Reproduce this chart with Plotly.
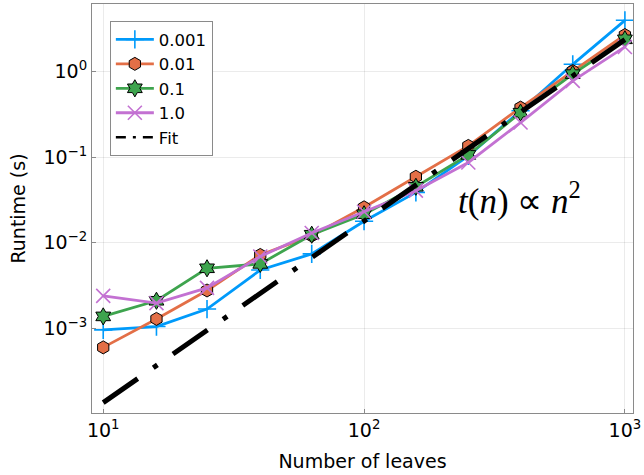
import plotly.graph_objects as go

# Number of leaves in the tree (log-spaced sizes)
leaves = [10, 16, 25, 40, 63, 100, 158, 251, 398, 631, 1000]

# Runtime in seconds for each tolerance setting
rt_0001 = [0.00096, 0.00105, 0.00168, 0.0048, 0.0074, 0.0178, 0.0387, 0.1035, 0.347, 1.21, 3.95]
rt_001 = [0.0006, 0.00129, 0.00277, 0.0072, 0.0121, 0.0259, 0.0589, 0.135, 0.378, 1.01, 2.66]
rt_01 = [0.00138, 0.0021, 0.00503, 0.00566, 0.0124, 0.0215, 0.045, 0.106, 0.33, 0.93, 2.37]
rt_1 = [0.0024, 0.00197, 0.00297, 0.0069, 0.013, 0.023, 0.0405, 0.0865, 0.253, 0.775, 1.93]

# Power-law fit line endpoints
fit_x = [10, 1000]
fit_y = [1.36e-4, 2.35]

series_names = ["0.001", "0.01", "0.1", "1.0"]

x_tickvals = [10, 100, 1000]
x_ticktext = ["10<sup>1</sup>", "10<sup>2</sup>", "10<sup>3</sup>"]
y_tickvals = [1e-3, 1e-2, 1e-1, 1]
y_ticktext = ["10<sup>\u22123</sup>", "10<sup>\u22122</sup>", "10<sup>\u22121</sup>", "10<sup>0</sup>"]

BLUE = "#009AFA"
ORANGE = "#E36F47"
GREEN = "#3EA44E"
PURPLE = "#C371D2"
FONT = "DejaVu Sans"

fig = go.Figure()

fig.add_trace(go.Scatter(
    x=leaves, y=rt_0001, name=series_names[0], mode="lines+markers",
    line=dict(color=BLUE, width=2.8),
    marker=dict(symbol="cross-thin", size=13, color=BLUE,
                line=dict(color=BLUE, width=1.6)),
))
fig.add_trace(go.Scatter(
    x=leaves, y=rt_001, name=series_names[1], mode="lines+markers",
    line=dict(color=ORANGE, width=2.8),
    marker=dict(symbol="hexagon", size=13, color=ORANGE,
                line=dict(color="black", width=1)),
))
fig.add_trace(go.Scatter(
    x=leaves, y=rt_01, name=series_names[2], mode="lines+markers",
    line=dict(color=GREEN, width=2.8),
    marker=dict(symbol="hexagram", size=13, color=GREEN,
                line=dict(color="black", width=1)),
))
fig.add_trace(go.Scatter(
    x=leaves, y=rt_1, name=series_names[3], mode="lines+markers",
    line=dict(color=PURPLE, width=2.8),
    marker=dict(symbol="x-thin", size=14, color=PURPLE,
                line=dict(color=PURPLE, width=1.6)),
))
# Fit line in the plot (thick dash-dot); legend uses a thinner proxy entry
fig.add_trace(go.Scatter(
    x=fit_x, y=fit_y, name="Fit", mode="lines", showlegend=False,
    line=dict(color="black", width=5, dash="42px,19px,5px,19px"),
))
fig.add_trace(go.Scatter(
    x=[None], y=[None], name="Fit", mode="lines",
    line=dict(color="black", width=2.5, dash="10px,7px,3px,7px"),
))

axis_common = dict(
    type="log",
    showline=True, mirror=True, linecolor="#8a8a8a", linewidth=1,
    ticks="inside", ticklen=4, tickcolor="#8a8a8a",
    showgrid=True, gridcolor="rgba(0,0,0,0.08)", gridwidth=1,
    zeroline=False,
    ticklabeloverflow="allow",
    tickfont=dict(family=FONT, size=19, color="black"),
    title_font=dict(family=FONT, size=19, color="black"),
)

fig.update_xaxes(
    **axis_common,
    range=[0.957, 3.031],
    tickvals=x_tickvals, ticktext=x_ticktext,
    title_text="Number of leaves", title_standoff=14,
)
fig.update_yaxes(
    **axis_common,
    range=[-3.988, 0.787],
    tickvals=y_tickvals, ticktext=y_ticktext,
    ticklabelstandoff=0,
    title_text="Runtime (s)", title_standoff=12,
)

fig.add_annotation(
    xref="paper", yref="paper", x=0.79, y=0.524,
    xanchor="center", yanchor="middle",
    text="<i>t</i>(<i>n</i>) \u221d <i>n</i><sup>2</sup>",
    showarrow=False,
    font=dict(family="Liberation Serif", size=35, color="black"),
)

fig.update_layout(
    width=644, height=475,
    margin=dict(l=92, r=8, t=3, b=62),
    paper_bgcolor="white", plot_bgcolor="white",
    font=dict(family=FONT, color="black"),
    showlegend=True,
    legend=dict(
        x=0.033, y=0.958, xanchor="left", yanchor="top",
        bgcolor="white", bordercolor="#8a8a8a", borderwidth=1,
        font=dict(family=FONT, size=16.5, color="black"),
        tracegroupgap=0, itemwidth=38,
    ),
)

fig.write_html("out.html")
